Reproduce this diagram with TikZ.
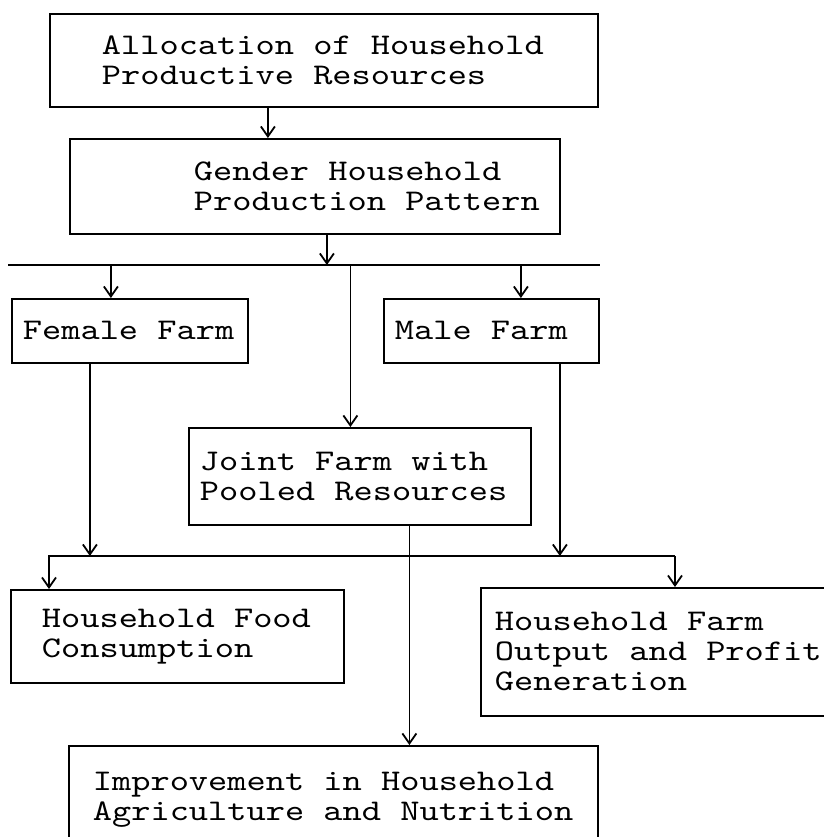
\documentclass[tikz,border=0pt]{standalone}
\usepackage{fontspec}
\newfontfamily\typewriter{lmmono10-regular.otf}[FakeStretch=1.22]
\usetikzlibrary{arrows.meta}
\tikzstyle{farmbox} = [draw=black, line width=0.9pt, rectangle, anchor=north west,
    inner ysep=0pt, font=\typewriter\fontsize{15}{15}\selectfont]
\tikzstyle{flow} = [line width=0.9pt, -{Straight Barb[length=5pt,width=7pt]}]

\begin{document}
\begin{tikzpicture}[x=0.5pt,y=-0.5pt]
                \useasboundingbox (0,0) rectangle (824,837);
                % boxes
                \node [farmbox, inner xsep=26pt, minimum height=46.5pt] (alloc) at (49,13){%
                    \begin{minipage}{222pt}
                        Allocation of Household\\
                        Productive Resources
                    \end{minipage}
                };
                \node [farmbox, inner xsep=6pt, minimum height=47.5pt] (gender) at (69,138){%
                    \begin{minipage}{233pt}
                        \hspace*{56pt}Gender Household\\
                        \hspace*{56pt}Production Pattern
                    \end{minipage}
                };
                \node [farmbox, inner xsep=5.5pt, minimum height=32pt] (female) at (11,298){%
                    \begin{minipage}{107pt}
                        Female Farm
                    \end{minipage}
                };
                \node [farmbox, inner xsep=5.5pt, minimum height=32pt] (male) at (383,298){%
                    \begin{minipage}{96.5pt}
                        Male Farm
                    \end{minipage}
                };
                \node [farmbox, inner xsep=5.5pt, minimum height=48.5pt] (joint) at (188,427){%
                    \begin{minipage}{160pt}
                        Joint Farm with\\
                        Pooled Resources
                    \end{minipage}
                };
                \node [farmbox, inner xsep=15.5pt, minimum height=46.5pt] (food) at (10,589){%
                    \begin{minipage}{135.5pt}
                        Household Food\\
                        Consumption
                    \end{minipage}
                };
                \node [farmbox, inner xsep=7pt, minimum height=64pt] (output) at (480,587){%
                    \begin{minipage}{166pt}
                        Household Farm\\
                        Output and Profit\\
                        Generation
                    \end{minipage}
                };
                \node [farmbox, inner xsep=12pt, minimum height=54pt] (improve) at (68,745){%
                    \begin{minipage}{240.5pt}
                        Improvement in Household\\
                        Agriculture and Nutrition
                    \end{minipage}
                };
                % distribution lines
                \coordinate (busL) at (8,265);
                \coordinate (busR) at (600,265);
                \coordinate (bustwoL) at (49,556);
                \coordinate (bustwoR) at (675,556);
                \draw[line width=0.9pt] (busL) -- (busR);
                % arrows
                \draw[flow] ([xshift=-28pt]alloc.south) -- ([xshift=-28pt]alloc.south |- gender.north);
                \draw[flow] ([xshift=6pt]gender.south) -- ([xshift=6pt]gender.south |- busL);
                \draw[flow] ([xshift=-9.5pt]female.north |- busL) -- ([xshift=-9.5pt]female.north);
                \draw[flow] ([xshift=14.75pt]male.north |- busL) -- ([xshift=14.75pt]male.north);
                \draw[flow] ([xshift=-4.75pt]joint.north |- busL) -- ([xshift=-4.75pt]joint.north);
                \draw[flow] ([xshift=-20pt]female.south) -- ([xshift=-20pt]female.south |- bustwoL);
                \draw[flow] ([xshift=34.25pt]male.south) -- ([xshift=34.25pt]male.south |- bustwoL);
                \draw[flow] (bustwoR) -- (bustwoL) -- (bustwoL |- food.north);
                \draw[flow] (bustwoR) -- (bustwoR |- output.north);
                \draw[flow] ([xshift=24.75pt]joint.south) -- ([xshift=24.75pt]joint.south |- improve.north);
            \end{tikzpicture}
\end{document}
